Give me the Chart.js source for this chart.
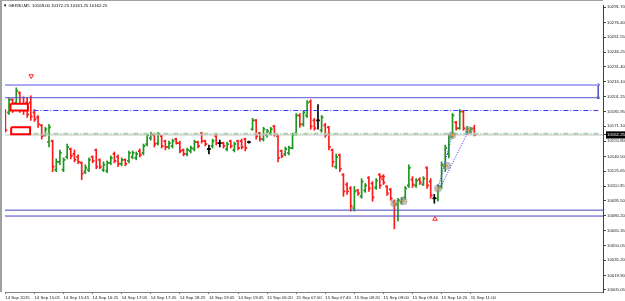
<!DOCTYPE html>
<html>
<head>
<meta charset="utf-8">
<script src="https://cdn.jsdelivr.net/npm/chart.js@4.4.1/dist/chart.umd.min.js"></script>
<style>
    body { margin: 0; background: #fff; }
    #wrap { position: relative; width: 625px; height: 301px; }
    #frame { position: absolute; left: 0; top: 0; width: 603px; height: 292px; border-left: 2px solid #a0a0a0; border-top: 1px solid #a0a0a0; box-sizing: border-box; pointer-events: none; }
    #caption { position: absolute; left: 3px; top: 3px; font: 4.3px "Liberation Sans", "DejaVu Sans", sans-serif; color: #000; white-space: nowrap; line-height: 5px; }
</style>
</head>
<body>
<div id="wrap">
    <canvas id="PriceChart" width="625" height="301"></canvas>
    <div id="frame"></div>
    <div id="caption">▼ GER30,M5&nbsp; 10169.00 10172.25 10161.25 10162.25</div>
</div>
<script>
// M5 bars, one entry per bar (bar index = position)
var opens = [10187, 10185, 10198, 10195, 10205, 10191, 10195, 10195, 10185, 10180,
    10172, 10162, 10155, 10156, 10127, 10135, 10127, 10140, 10148, 10143,
    10140, 10134, 10125, 10127, 10140, 10147, 10137, 10127, 10126, 10134,
    10143, 10140, 10133, 10137, 10136, 10140, 10139, 10146, 10144, 10153,
    10159, 10162, 10154, 10161, 10156, 10150, 10151, 10158, 10154, 10147,
    10143, 10146, 10148, 10155, 10164, 10156, 10148, 10151, 10161, 10154,
    10154, 10148, 10156, 10147, 10156, 10156, 10158, 10155, 10168, 10177,
    10164, 10158, 10162, 10164, 10171, 10161, 10146, 10143, 10144, 10149,
    10164, 10182, 10173, 10182, 10196, 10177, 10177, 10167, 10172, 10170,
    10147, 10130, 10142, 10122, 10112, 10108, 10088, 10106, 10100, 10106,
    10119, 10113, 10109, 10122, 10120, 10110, 10107, 10094, 10092, 10094,
    10099, 10111, 10117, 10111, 10117, 10112, 10129, 10115, 10098, 10098,
    10110, 10130, 10143, 10162, 10175, 10169, 10186, 10164, 10166, 10169.00];
var highs = [10188, 10200, 10199, 10210, 10206, 10201, 10200, 10202, 10188, 10182,
    10173, 10170, 10173, 10157, 10138, 10147, 10139, 10153, 10149, 10147,
    10142, 10135, 10132, 10139, 10141, 10148, 10138, 10135, 10136, 10141,
    10145, 10142, 10139, 10138, 10146, 10146, 10145, 10148, 10153, 10164,
    10165, 10164, 10165, 10162, 10157, 10156, 10158, 10159, 10156, 10148,
    10149, 10151, 10157, 10156, 10165, 10157, 10152, 10158, 10163, 10157,
    10155, 10155, 10157, 10155, 10157, 10158, 10159, 10156, 10179, 10178,
    10165, 10170, 10168, 10170, 10172, 10162, 10147, 10150, 10151, 10164,
    10184, 10184, 10187, 10197, 10198, 10179, 10193, 10182, 10174, 10171,
    10148, 10143, 10143, 10123, 10114, 10110, 10110, 10107, 10118, 10113,
    10120, 10115, 10118, 10123, 10122, 10111, 10108, 10096, 10098, 10099,
    10110, 10132, 10120, 10118, 10119, 10120, 10130, 10118, 10102, 10112,
    10135, 10152, 10162, 10184, 10176, 10188, 10187, 10171, 10170, 10172.25];
var lows = [10165, 10183, 10185, 10192, 10185, 10183, 10180, 10177, 10176, 10170,
    10158, 10161, 10150, 10125, 10125, 10132, 10125, 10138, 10138, 10135,
    10133, 10117, 10123, 10125, 10134, 10128, 10128, 10125, 10124, 10132,
    10134, 10130, 10131, 10131, 10134, 10138, 10137, 10140, 10142, 10151,
    10157, 10150, 10152, 10149, 10147, 10148, 10149, 10153, 10144, 10141,
    10141, 10144, 10146, 10149, 10154, 10151, 10143, 10149, 10152, 10150,
    10149, 10146, 10149, 10145, 10147, 10148, 10146, 10154, 10167, 10158,
    10156, 10156, 10160, 10162, 10161, 10135, 10139, 10141, 10142, 10148,
    10162, 10170, 10171, 10180, 10168, 10167, 10168, 10165, 10160, 10147,
    10130, 10128, 10125, 10100, 10102, 10085, 10085, 10101, 10098, 10104,
    10105, 10095, 10107, 10108, 10112, 10101, 10096, 10067, 10075, 10092,
    10097, 10109, 10109, 10109, 10112, 10111, 10108, 10098, 10093, 10095,
    10108, 10125, 10139, 10160, 10167, 10168, 10167, 10163, 10164, 10161.25];
var closes = [10167, 10198, 10190, 10207, 10191, 10187, 10183, 10181, 10178, 10173,
    10161, 10168, 10170, 10130, 10135, 10144, 10137, 10150, 10141, 10137,
    10135, 10123, 10129, 10137, 10136, 10130, 10130, 10132, 10134, 10139,
    10136, 10133, 10137, 10133, 10144, 10144, 10143, 10142, 10151, 10162,
    10163, 10153, 10163, 10151, 10150, 10154, 10156, 10154, 10146, 10143,
    10147, 10149, 10155, 10151, 10156, 10153, 10148, 10156, 10154, 10154,
    10151, 10153, 10151, 10153, 10149, 10150, 10149, 10155, 10177, 10161,
    10158, 10168, 10166, 10168, 10163, 10139, 10141, 10148, 10149, 10162,
    10182, 10173, 10185, 10195, 10171, 10169, 10177, 10180, 10162, 10150,
    10135, 10140, 10128, 10105, 10105, 10090, 10105, 10103, 10115, 10111,
    10108, 10099, 10116, 10111, 10114, 10103, 10098, 10092, 10096, 10097,
    10108, 10129, 10112, 10116, 10114, 10118, 10111, 10101, 10098, 10109,
    10132, 10149, 10160, 10182, 10169, 10186, 10169, 10168, 10168, 10162.25];

var timeLabels = ["14 Sep 2015", "14 Sep 15:05", "14 Sep 15:45", "14 Sep 16:25", "14 Sep 17:05",
    "14 Sep 17:45", "14 Sep 18:25", "14 Sep 19:05", "14 Sep 19:45", "15 Sep 06:20",
    "15 Sep 07:00", "15 Sep 07:40", "15 Sep 08:20", "15 Sep 09:00", "15 Sep 09:40",
    "15 Sep 10:20", "15 Sep 11:00"];
var timeLabelBars = [0, 8, 16, 24, 32, 40, 48, 56, 64, 72, 80, 88, 96, 104, 112, 120, 128];
var priceTicks = [10291.70, 10276.40, 10261.55, 10246.25, 10231.40, 10216.10, 10201.25,
    10185.95, 10171.10, 10155.80, 10140.50, 10125.65, 10110.35, 10095.50, 10080.20,
    10065.35, 10050.05, 10035.20, 10019.90, 10005.05];
var lastPrice = 10162.25;

// drawn objects (bar index / price)
var channelTop = 10213;
var channelBottom = 10200;
var channelEnd = 163.1;
var blueDashLevel = 10187;
var greenDashLevel = 10163.5;
var dashStart = 7.7;
var supportLevels = [10086, 10080];
var labelBoxes = [
    { x0: 1.4, x1: 6.2, top: 10194, bottom: 10187 },
    { x0: 1.6, x1: 6.8, top: 10170, bottom: 10163 }
];
var markerPoints = [
    { x: 107, y: 10093 }, { x: 109.5, y: 10095 }, { x: 119, y: 10108 },
    { x: 121.5, y: 10131 }, { x: 122.9, y: 10162 }, { x: 127.5, y: 10167 }
];
var trendLines = [
    [{ x: 119, y: 10108 }, { x: 122.9, y: 10162 }],
    [{ x: 119.8, y: 10110 }, { x: 127.5, y: 10167 }]
];
var downArrows = [{ x: 7.1, y: 10222 }, { x: 103.7, y: 10119 }];
var upArrows = [{ x: 118.2, y: 10077 }];

function barColor(i) {
    if (closes[i] > opens[i]) return '#1e961e';
    if (closes[i] < opens[i]) return '#ff1a1a';
    return '#000000';
}

function hLine(label, level, x0, x1, color, width, dash) {
    return {
        type: 'line',
        label: label,
        data: [{ x: x0, y: level }, { x: x1, y: level }],
        borderColor: color,
        borderWidth: width,
        borderDash: dash || [],
        pointRadius: 0,
        fill: false,
        order: 3
    };
}

function setupChart() {
    var colors = closes.map(function (c, i) { return barColor(i); });
    var half = 0.6;

    var datasets = [{
        type: 'bar', label: 'Open',
        data: opens.map(function (o, i) { return { x: i, y: [o - half, o + half] }; }),
        backgroundColor: colors, barThickness: 1, order: 5
    }, {
        type: 'bar', label: 'Range',
        data: highs.map(function (h, i) { return { x: i, y: [lows[i], h] }; }),
        backgroundColor: colors, barThickness: 1, order: 5
    }, {
        type: 'bar', label: 'Close',
        data: closes.map(function (c, i) { return { x: i, y: [c - half, c + half] }; }),
        backgroundColor: colors, barThickness: 1, order: 5
    }];

    datasets.push(hLine('Bid', lastPrice, -5, 170, '#c0c0c0', 1));
    datasets.push(hLine('GreenDash', greenDashLevel, dashStart, channelEnd, '#a6d3a6', 2, [5, 2, 1, 2]));
    datasets.push(hLine('BlueDash', blueDashLevel, dashStart, channelEnd, '#3636ff', 1, [5, 2, 1, 2]));
    datasets.push(hLine('ChannelTop', channelTop, -5, channelEnd, '#a9a9f5', 2));
    datasets.push(hLine('ChannelBottom', channelBottom, -5, channelEnd, '#5353cf', 1));
    datasets.push({
        type: 'line', label: 'ChannelEdge',
        data: [{ x: channelEnd, y: channelTop }, { x: channelEnd, y: channelBottom }],
        borderColor: '#5353cf', borderWidth: 1,
        pointStyle: 'rect', pointRadius: 1.2, pointBackgroundColor: '#ffffff', pointBorderColor: '#3b3bd0',
        fill: false, order: 3
    });
    supportLevels.forEach(function (level, i) {
        datasets.push(hLine('Support' + i, level, -5, 170, '#4444c0', 1));
    });

    trendLines.forEach(function (pts, i) {
        datasets.push({
            type: 'line', label: 'Trend' + i, data: pts,
            borderColor: '#2a2aff', borderWidth: 1, borderDash: [1, 1.5],
            pointRadius: 0, fill: false, order: 2
        });
    });

    datasets.push({
        type: 'line', label: 'Markers', data: markerPoints, showLine: false,
        pointRadius: 4, pointBackgroundColor: 'rgba(140,140,140,0.55)', pointBorderWidth: 0, order: 2
    });
    datasets.push({
        type: 'line', label: 'MarkerDots', data: markerPoints, showLine: false,
        pointRadius: 1.1, pointBackgroundColor: '#f0a000', pointBorderWidth: 0, order: 1
    });
    datasets.push({
        type: 'line', label: 'Down', data: downArrows, showLine: false,
        pointStyle: 'triangle', rotation: 180, pointRadius: 2.6,
        pointBackgroundColor: 'rgba(0,0,0,0)', pointBorderColor: '#ff2020', pointBorderWidth: 1, order: 1
    });
    datasets.push({
        type: 'line', label: 'Up', data: upArrows, showLine: false,
        pointStyle: 'triangle', pointRadius: 2.6,
        pointBackgroundColor: 'rgba(0,0,0,0)', pointBorderColor: '#ff2020', pointBorderWidth: 1, order: 1
    });

    labelBoxes.forEach(function (b, i) {
        datasets.push({
            type: 'line', label: 'Box' + i,
            data: [{ x: b.x0, y: b.top }, { x: b.x1, y: b.top }, { x: b.x1, y: b.bottom },
                { x: b.x0, y: b.bottom }, { x: b.x0, y: b.top }],
            borderColor: '#ff0000', borderWidth: 2, backgroundColor: '#ffffff',
            fill: 'shape', pointRadius: 0, tension: 0, order: 0
        });
    });

    var tickFont = { family: "'Liberation Sans', Arial, sans-serif", size: 4.3 };

    var priceChart = new Chart(document.getElementById('PriceChart').getContext('2d'), {
        type: 'bar',
        data: { datasets: datasets },
        options: {
            responsive: false,
            animation: false,
            layout: { padding: { left: 2, top: 1, right: 0, bottom: 0 } },
            plugins: { legend: { display: false }, tooltip: { enabled: false } },
            scales: {
                x: {
                    type: 'linear', min: -0.1, max: 164.4, offset: false,
                    afterBuildTicks: function (scale) {
                        scale.ticks = timeLabelBars.map(function (v) { return { value: v }; });
                    },
                    afterFit: function (scale) {
                        scale.height = 9;
                        scale.paddingLeft = 0; scale.paddingRight = 0;
                    },
                    border: { color: '#808080', width: 1 },
                    grid: { drawOnChartArea: false, drawTicks: true, tickLength: 2, color: '#707070', offset: false },
                    ticks: {
                        autoSkip: false, maxRotation: 0, align: 'start', padding: 1,
                        font: tickFont, color: '#222',
                        callback: function (value) { return timeLabels[timeLabelBars.indexOf(value)]; }
                    }
                },
                y: {
                    type: 'linear', position: 'right', min: 10003, max: 10294, bounds: 'data',
                    afterBuildTicks: function (scale) {
                        scale.ticks = priceTicks.concat([lastPrice]).map(function (v) { return { value: v }; });
                    },
                    afterFit: function (scale) {
                        scale.width = 22;
                        scale.paddingTop = 0; scale.paddingBottom = 0;
                    },
                    border: { color: '#404040', width: 1 },
                    grid: { drawOnChartArea: false, drawTicks: true, tickLength: 3, color: '#404040' },
                    ticks: {
                        autoSkip: false, padding: 1, font: tickFont,
                        color: function (ctx) { return ctx.tick && ctx.tick.value === lastPrice ? '#ffffff' : '#222'; },
                        showLabelBackdrop: function (ctx) { return !!(ctx.tick && ctx.tick.value === lastPrice); },
                        backdropColor: '#000000',
                        backdropPadding: { x: 1, y: 1 },
                        callback: function (value) { return value.toFixed(2); }
                    }
                }
            }
        }
    });
}

setupChart();
</script>
</body>
</html>
